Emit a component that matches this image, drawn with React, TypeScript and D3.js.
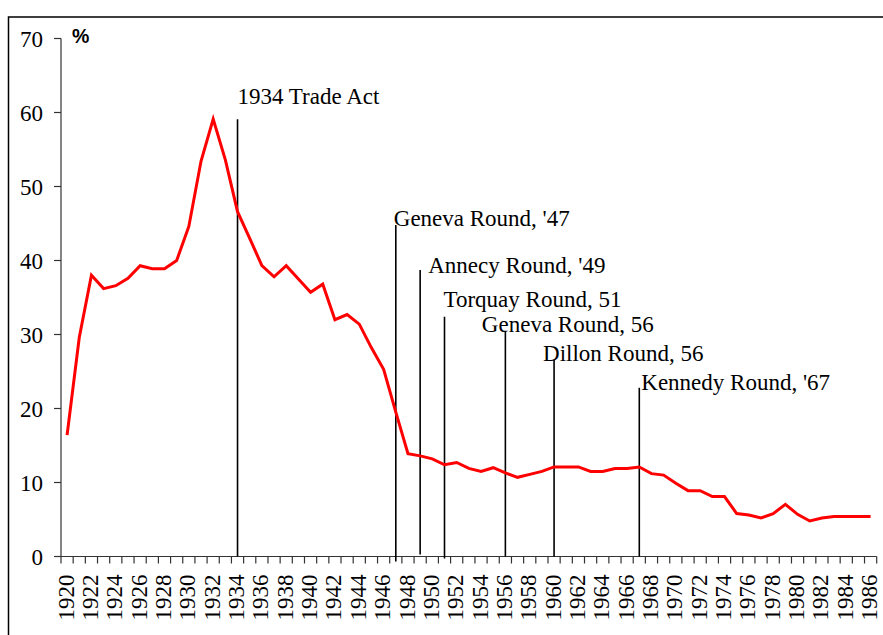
import * as d3 from "d3";

// years on the category axis
const years = d3.range(1920, 1987);

// average tariff rate, %
const tariff = [
  16.4, 29.6, 38.0, 36.2, 36.6, 37.6, 39.3, 38.9, 38.9, 40.0,
  44.6, 53.4, 59.1, 53.6, 46.6, 43.0, 39.3, 37.8, 39.3, 37.5,
  35.7, 36.8, 32.0, 32.7, 31.4, 28.2, 25.3, 19.5, 13.9, 13.6,
  13.2, 12.4, 12.7, 11.9, 11.5, 12.0, 11.3, 10.7, 11.1, 11.5,
  12.1, 12.1, 12.1, 11.5, 11.5, 11.9, 11.9, 12.1, 11.2, 11.0,
  9.9, 8.9, 8.9, 8.1, 8.1, 5.8, 5.6, 5.2, 5.8, 7.05,
  5.7, 4.8, 5.2, 5.4, 5.4, 5.4, 5.4,
];

const yTicks = [0, 10, 20, 30, 40, 50, 60, 70];

// trade events marked with a vertical line
const eventNames = [
  "1934 Trade Act",
  "Geneva Round, '47",
  "Annecy Round, '49",
  "Torquay Round, 51",
  "Geneva Round, 56",
  "Dillon Round, 56",
  "Kennedy Round, '67",
];
const eventYears = [1934, 1947, 1949, 1951, 1956, 1960, 1967];
const eventTops = [59.1, 44.8, 38.7, 32.4, 30.4, 26.6, 22.8];

// label placement relative to the top of each line (px)
const labelDx = [0, -2, 8, -1, -23.5, -11, 2];
const labelDy = [-15.5, 1, 3.3, -10, 0.6, 1, 2.3];
// how far each line runs past the x axis (px)
const lineTail = [0, 5, -2, 2, 0, 0, 0];

const width = 883;
const height = 635;
const axisLeft = 61;
const axisRight = 876.7;
const font = "'Liberation Serif', 'Times New Roman', serif";
const fontSize = 23;

export default function App() {
  const x = d3.scaleBand<number>().domain(years).range([axisLeft, axisRight]).padding(0);
  const y = d3.scaleLinear().domain([0, 70]).range([556.5, 38.5]);
  const bw = x.bandwidth();
  const cx = (yr: number) => (x(yr) as number) + bw / 2;

  const line = d3
    .line<number>()
    .x((_, i) => cx(years[i]))
    .y((d) => y(d));

  const boundaries = years.map((yr) => x(yr) as number).concat([axisRight]);
  const axisColor = "#333";

  return (
    <svg
      width={width}
      height={height}
      style={{ position: "absolute", left: 0, top: 0, background: "#fff" }}
    >
      <rect x={8.5} y={17} width={1000} height={1000} fill="none" stroke="#000" strokeWidth={1.5} />

      {/* y axis */}
      <line x1={axisLeft} x2={axisLeft} y1={y(70)} y2={y(0)} stroke={axisColor} strokeWidth={1.2} />
      {yTicks.map((t) => (
        <g key={t}>
          <line x1={axisLeft - 7} x2={axisLeft} y1={y(t)} y2={y(t)} stroke={axisColor} strokeWidth={1.2} />
          <text
            x={43}
            y={y(t)}
            dy="0.35em"
            textAnchor="end"
            fontFamily={font}
            fontSize={fontSize}
            fill="#000"
          >
            {t}
          </text>
        </g>
      ))}
      <text x={72} y={43} fontFamily="'Liberation Sans', Arial, sans-serif" fontWeight="bold" fontSize={19.5} fill="#000">
        %
      </text>

      {/* x axis */}
      <line x1={axisLeft} x2={axisRight} y1={y(0)} y2={y(0)} stroke={axisColor} strokeWidth={1.2} />
      {boundaries.map((bx, i) => (
        <line key={i} x1={bx} x2={bx} y1={y(0)} y2={y(0) + 7} stroke={axisColor} strokeWidth={1.2} />
      ))}
      {years
        .filter((yr) => yr % 2 === 0)
        .map((yr) => (
          <text
            key={yr}
            transform={`translate(${cx(yr) - 1.5},${y(0) + 18}) rotate(-90)`}
            dy="0.35em"
            textAnchor="end"
            fontFamily={font}
            fontSize={fontSize}
            fill="#000"
          >
            {yr}
          </text>
        ))}

      {/* event lines */}
      {eventYears.map((yr, i) => (
        <g key={yr}>
          <line
            x1={cx(yr)}
            x2={cx(yr)}
            y1={y(eventTops[i])}
            y2={y(0) + lineTail[i]}
            stroke="#000"
            strokeWidth={1.6}
          />
          <text
            x={cx(yr) + labelDx[i]}
            y={y(eventTops[i]) + labelDy[i]}
            fontFamily={font}
            fontSize={fontSize}
            fill="#000"
          >
            {eventNames[i]}
          </text>
        </g>
      ))}

      {/* tariff series */}
      <path d={line(tariff) as string} fill="none" stroke="#ff0000" strokeWidth={3} strokeLinejoin="miter" />
    </svg>
  );
}
